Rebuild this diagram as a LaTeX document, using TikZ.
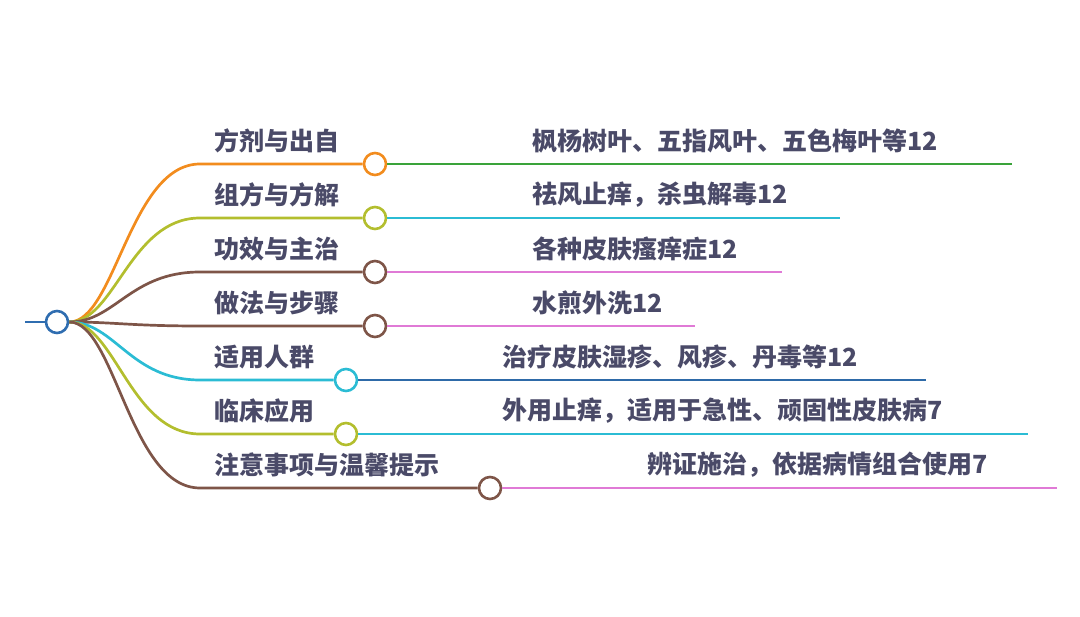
\documentclass[tikz,border=0pt]{standalone}
\usepackage{fontspec}
\usepackage{xcolor}
\usetikzlibrary{positioning}
\newfontfamily\cjk{Noto Sans CJK SC}
\definecolor{rootblue}{HTML}{2F6DB0}
\definecolor{brOrange}{HTML}{F28C1E}
\definecolor{brOlive}{HTML}{B3BE2E}
\definecolor{brBrown}{HTML}{7E5548}
\definecolor{brCyan}{HTML}{2BBCD4}
\definecolor{brNavy}{HTML}{2E6AA8}
\definecolor{brGreen}{HTML}{3AA33A}
\definecolor{brPink}{HTML}{E07AD6}
\definecolor{labelInk}{HTML}{4A4A68}

\begin{document}
\begin{tikzpicture}[
  x=1pt, y=-1pt,
  every node/.style={font=\cjk\bfseries\fontsize{25}{30}\selectfont, text=labelInk, inner sep=0pt},
  knob/.style={circle, draw, fill=white, line width=2.6pt, minimum size=22pt},
  branch/.style={line width=2.7pt},
  twig/.style={line width=2.5pt}
]
\useasboundingbox (0,0) rectangle (1080,617);

% ── Root ───────────────────────────────────────────────────────────────────
\coordinate (stem) at (25,322);
\node[knob, draw=rootblue] (root) at (57,322) {};
\draw[branch, rootblue] (stem) -- (root.west);

% ── 1: 方剂与出自 ────────────────────────────────────────────────────────────
\coordinate (b1) at (200,164);
\node[knob, draw=brOrange] (c1) at (375,164) {};
\coordinate (e1) at (1012,164);
\draw[branch, brOrange] (root.east) .. controls (115,322) and (130,164) .. (b1) -- (c1.west);
\draw[twig, brGreen] (c1.east) -- (e1);
\node[anchor=west] (k1) at (214,141) {方剂与出自};
\node[anchor=west] (v1) at (532,141) {枫杨树叶、五指风叶、五色梅叶等12};

% ── 2: 组方与方解 ────────────────────────────────────────────────────────────
\coordinate (b2) at (200,218);
\node[knob, draw=brOlive] (c2) at (375,218) {};
\coordinate (e2) at (840,218);
\draw[branch, brOlive] (root.east) .. controls (115,322) and (130,218) .. (b2) -- (c2.west);
\draw[twig, brCyan] (c2.east) -- (e2);
\node[anchor=west] (k2) at (214,195) {组方与方解};
\node[anchor=west] (v2) at (532,195) {祛风止痒，杀虫解毒12};

% ── 3: 功效与主治 ────────────────────────────────────────────────────────────
\coordinate (b3) at (200,272);
\node[knob, draw=brBrown] (c3) at (375,272) {};
\coordinate (e3) at (782,272);
\draw[branch, brBrown] (root.east) .. controls (115,322) and (130,272) .. (b3) -- (c3.west);
\draw[twig, brPink] (c3.east) -- (e3);
\node[anchor=west] (k3) at (214,249) {功效与主治};
\node[anchor=west] (v3) at (532,249) {各种皮肤瘙痒症12};

% ── 4: 做法与步骤 ────────────────────────────────────────────────────────────
\coordinate (b4) at (200,326);
\node[knob, draw=brBrown] (c4) at (375,326) {};
\coordinate (e4) at (695,326);
\draw[branch, brBrown] (root.east) .. controls (115,322) and (130,326) .. (b4) -- (c4.west);
\draw[twig, brPink] (c4.east) -- (e4);
\node[anchor=west] (k4) at (214,303) {做法与步骤};
\node[anchor=west] (v4) at (532,303) {水煎外洗12};

% ── 5: 适用人群 ──────────────────────────────────────────────────────────────
\coordinate (b5) at (200,380);
\node[knob, draw=brCyan] (c5) at (346,380) {};
\coordinate (e5) at (926,380);
\draw[branch, brCyan] (root.east) .. controls (115,322) and (130,380) .. (b5) -- (c5.west);
\draw[twig, brNavy] (c5.east) -- (e5);
\node[anchor=west] (k5) at (214,357) {适用人群};
\node[anchor=west] (v5) at (502,357) {治疗皮肤湿疹、风疹、丹毒等12};

% ── 6: 临床应用 ──────────────────────────────────────────────────────────────
\coordinate (b6) at (200,434);
\node[knob, draw=brOlive] (c6) at (346,434) {};
\coordinate (e6) at (1028,434);
\draw[branch, brOlive] (root.east) .. controls (115,322) and (130,434) .. (b6) -- (c6.west);
\draw[twig, brCyan] (c6.east) -- (e6);
\node[anchor=west] (k6) at (214,411) {临床应用};
\node[anchor=west] (v6) at (502,411) {外用止痒，适用于急性、顽固性皮肤病7};

% ── 7: 注意事项与温馨提示 ────────────────────────────────────────────────────
\coordinate (b7) at (200,488);
\node[knob, draw=brBrown] (c7) at (490,488) {};
\coordinate (e7) at (1057,488);
\draw[branch, brBrown] (root.east) .. controls (115,322) and (130,488) .. (b7) -- (c7.west);
\draw[twig, brPink] (c7.east) -- (e7);
\node[anchor=west] (k7) at (214,465) {注意事项与温馨提示};
\node[anchor=west] (v7) at (647,465) {辨证施治，依据病情组合使用7};

\end{tikzpicture}
\end{document}
